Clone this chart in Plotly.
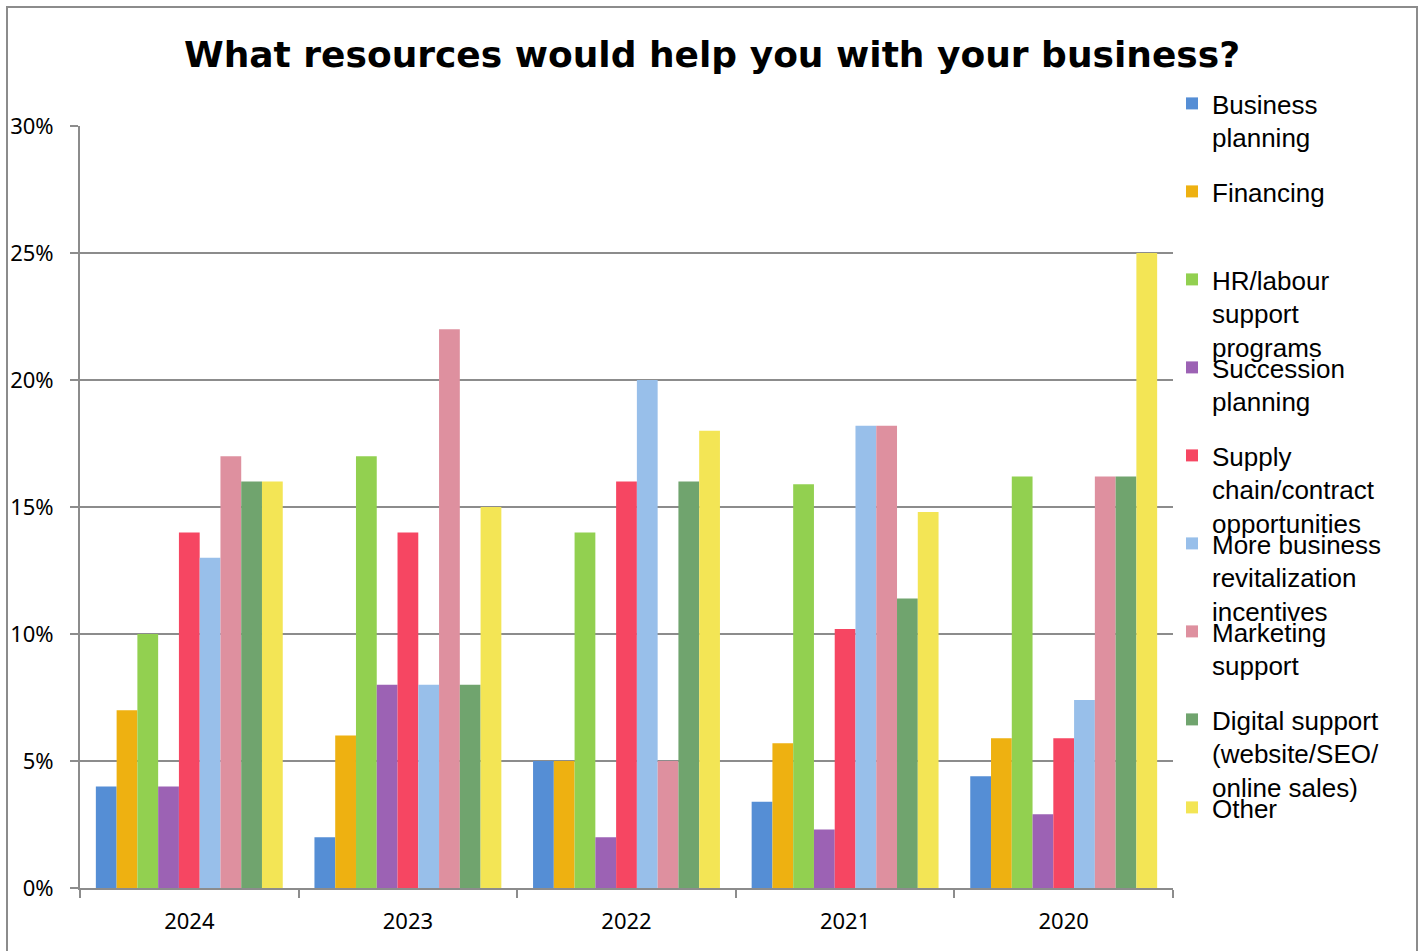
import plotly.graph_objects as go

years = ["2024", "2023", "2022", "2021", "2020"]
series_names = [
    "Business<br>planning",
    "Financing",
    "HR/labour<br>support<br>programs",
    "Succession<br>planning",
    "Supply<br>chain/contract<br>opportunities",
    "More business<br>revitalization<br>incentives",
    "Marketing<br>support",
    "Digital support<br>(website/SEO/<br>online sales)",
    "Other",
]
business_planning = [4, 2, 5, 3.4, 4.4]
financing = [7, 6, 5, 5.7, 5.9]
hr_labour = [10, 17, 14, 15.9, 16.2]
succession = [4, 8, 2, 2.3, 2.9]
supply_chain = [14, 14, 16, 10.2, 5.9]
revitalization = [13, 8, 20, 18.2, 7.4]
marketing = [17, 22, 5, 18.2, 16.2]
digital = [16, 8, 16, 11.4, 16.2]
other = [16, 15, 18, 14.8, 25]
series_values = [business_planning, financing, hr_labour, succession, supply_chain,
                 revitalization, marketing, digital, other]
colors = ["#558ED5", "#EEB111", "#92D050", "#9C62B4", "#F64662",
          "#98BFEA", "#DE909F", "#70A46E", "#F3E555"]
y_ticks = [0, 5, 10, 15, 20, 25, 30]
y_tick_labels = ["0%", "5%", "10%", "15%", "20%", "25%", "30%"]

W, H = 1424, 951
L, R, T, B = 80, 1173, 126, 888

fig = go.Figure()
legend_top_px = [80 + 88 * i for i in range(9)]
for i, (name, vals, col) in enumerate(zip(series_names, series_values, colors)):
    lg = "legend" if i == 0 else f"legend{i+1}"
    fig.add_trace(go.Bar(x=years, y=vals, name=name, marker_color=col,
                         marker_line_width=0, legend=lg))

legend_common = dict(xref="container", yref="container", x=1172 / W, xanchor="left",
                     yanchor="top", valign="top", bgcolor="rgba(0,0,0,0)",
                     font=dict(family="Liberation Sans", size=26, color="#000"),
                     itemwidth=30, tracegroupgap=0)
layout_legends = {}
for i in range(9):
    key = "legend" if i == 0 else f"legend{i+1}"
    layout_legends[key] = dict(legend_common, y=1 - legend_top_px[i] / H)

fig.update_layout(
    width=W, height=H, autosize=False,
    margin=dict(l=L, r=W - R, t=T, b=H - B, autoexpand=False),
    paper_bgcolor="white", plot_bgcolor="white",
    barmode="group", bargap=0.145, bargroupgap=0,
    title=dict(text="<b>What resources would help you with your business?</b>",
               x=712 / W, xanchor="center", xref="container",
               y=1 - 54 / H, yanchor="middle", yref="container",
               font=dict(family="DejaVu Sans", size=36, color="#000")),
    xaxis=dict(type="category", showgrid=False, showline=True, linecolor="#8C8C8C",
               linewidth=2, ticks="outside", tickson="boundaries", ticklen=8,
               tickcolor="#8C8C8C", tickwidth=2, ticklabelstandoff=13,
               tickfont=dict(family="Noto Sans", size=22, color="#000")),
    yaxis=dict(range=[0, 30], tickvals=y_ticks, ticktext=y_tick_labels,
               showgrid=True, gridcolor="#8C8C8C", gridwidth=2,
               showline=True, linecolor="#8C8C8C", linewidth=2,
               ticks="outside", ticklen=8, tickcolor="#8C8C8C", tickwidth=2,
               ticklabelstandoff=12,
               tickfont=dict(family="Noto Sans", size=22, color="#000"),
               zeroline=False),
    showlegend=True,
    **layout_legends,
)

def px2x(px):
    return (px - L) / (R - L)

def px2y(py):
    return (B - py) / (B - T)

fig.add_shape(type="rect", xref="paper", yref="paper",
              x0=px2x(7), x1=px2x(1417), y0=px2y(960), y1=px2y(7),
              line=dict(color="#8C8C8C", width=2), fillcolor="rgba(0,0,0,0)", layer="below")

fig.write_html(
    "out.html",
    config={"responsive": False, "displayModeBar": False},
    post_script=("document.documentElement.style.overflow='hidden';"
                 "document.body.style.margin='0';document.body.style.overflow='hidden';"),
)
